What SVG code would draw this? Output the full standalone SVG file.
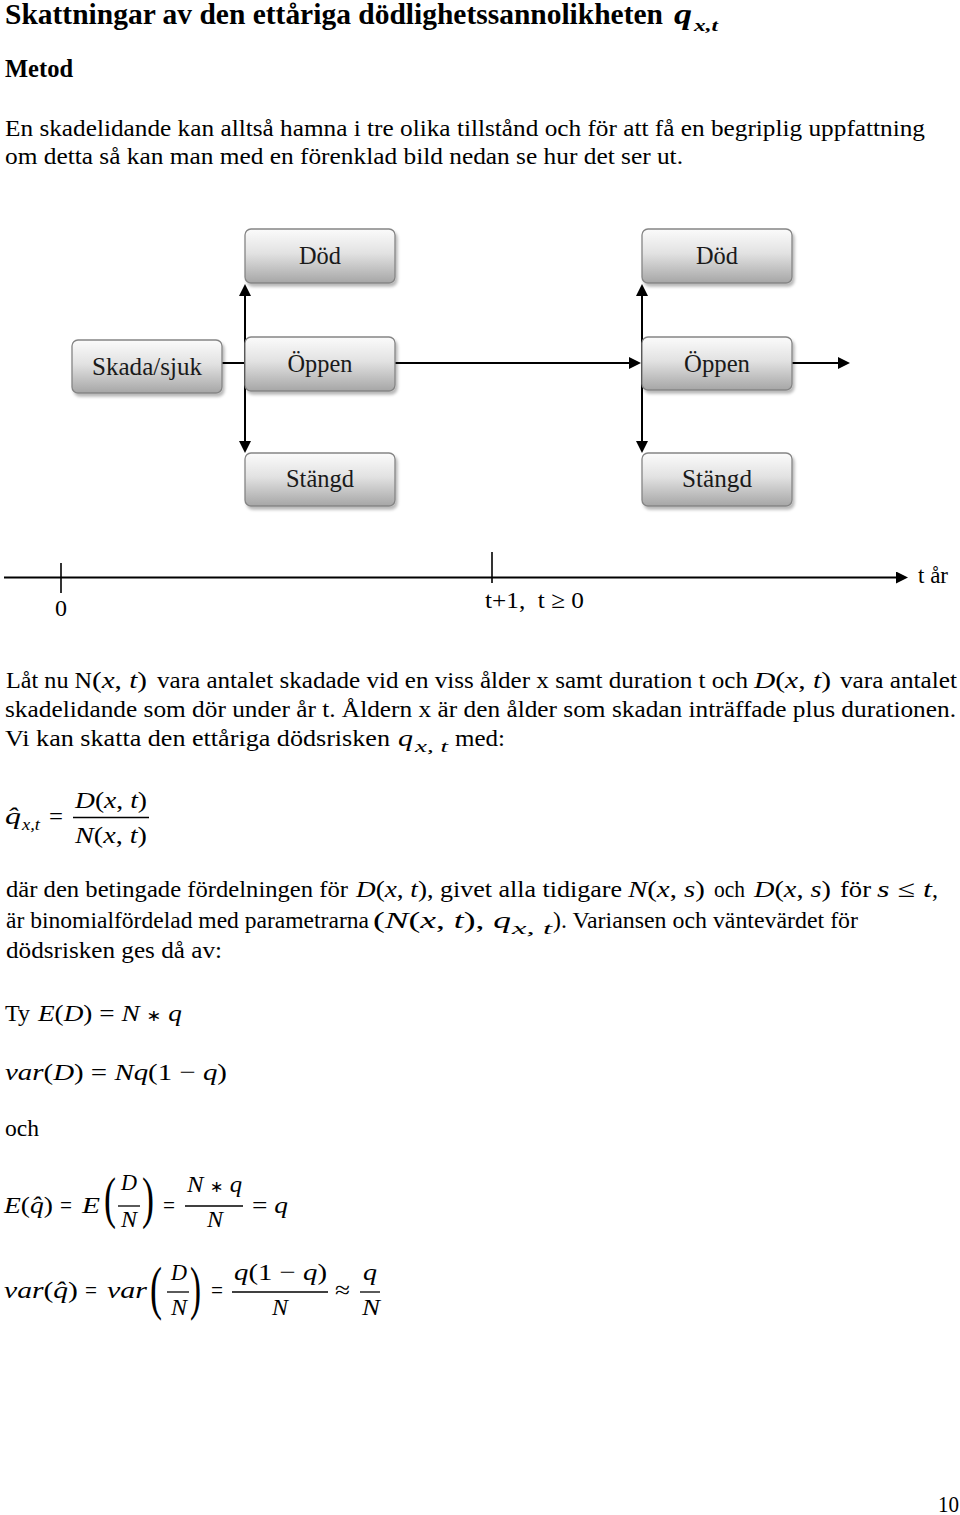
<svg xmlns="http://www.w3.org/2000/svg" width="960" height="1515" viewBox="0 0 960 1515">
<defs>
<linearGradient id="boxg" x1="0" y1="0" x2="0" y2="1">
<stop offset="0" stop-color="#fbfbfb"/>
<stop offset="0.45" stop-color="#e2e2e2"/>
<stop offset="1" stop-color="#a6a6a6"/>
</linearGradient>
<filter id="sh" x="-10%" y="-15%" width="130%" height="150%">
<feDropShadow dx="2" dy="3" stdDeviation="1.5" flood-color="#000" flood-opacity="0.28"/>
</filter>
<marker id="ah" viewBox="0 0 12 12" refX="2" refY="6" markerWidth="12" markerHeight="12" markerUnits="userSpaceOnUse" orient="auto-start-reverse"><path d="M0,0 L12,6 L0,12 z" fill="#000"/></marker>
<style>
.box{fill:url(#boxg);stroke:#858585;stroke-width:1.3;filter:url(#sh)}
.bl{font-family:"Liberation Serif","Times New Roman",serif;font-size:26px;fill:#1a1a1a;text-anchor:middle}
.tx{font-family:"Liberation Serif","Times New Roman",serif;font-size:24px;fill:#000}
.h1{font-family:"Liberation Serif","Times New Roman",serif;font-size:30px;font-weight:bold;fill:#000}
.h2{font-family:"Liberation Serif","Times New Roman",serif;font-size:26px;font-weight:bold;fill:#000}
.m{font-family:"Liberation Serif","DejaVu Serif",serif;font-size:24px;fill:#000}
.big{font-family:"Liberation Serif","DejaVu Serif",serif;fill:#000}
.i{font-style:italic}
.ast{font-family:"DejaVu Sans",sans-serif;font-size:16px;font-style:normal}
.sub{font-family:"Liberation Serif","Times New Roman",serif;font-size:17px;font-style:italic;fill:#000}
.conn{stroke:#000;stroke-width:2;fill:none}
.tick{stroke:#000;stroke-width:1.6;fill:none}
.bar{stroke:#000;stroke-width:1.3}
</style>
</defs>
<rect width="960" height="1515" fill="#fff"/>

<g id="heading">
<text class="h1" x="5" y="24" textLength="658" lengthAdjust="spacingAndGlyphs">Skattningar av den ettåriga dödlighetssannolikheten</text>
<text class="h1 i" x="674" y="24" textLength="18" lengthAdjust="spacingAndGlyphs">q</text>
<text class="sub" x="694" y="31" font-weight="bold" textLength="24" lengthAdjust="spacingAndGlyphs">x,t</text>
<text class="h2" x="5" y="77" textLength="68" lengthAdjust="spacingAndGlyphs">Metod</text>
<text class="tx" x="5" y="136" textLength="920" lengthAdjust="spacingAndGlyphs">En skadelidande kan alltså hamna i tre olika tillstånd och för att få en begriplig uppfattning</text>
<text class="tx" x="5" y="164" textLength="678" lengthAdjust="spacingAndGlyphs">om detta så kan man med en förenklad bild nedan se hur det ser ut.</text>
</g>

<g id="connectors">
<line class="conn" x1="222" y1="363" x2="245" y2="363"/>
<line class="conn" x1="245" y1="294" x2="245" y2="443" marker-start="url(#ah)" marker-end="url(#ah)"/>
<line class="conn" x1="395" y1="363" x2="631" y2="363" marker-end="url(#ah)"/>
<line class="conn" x1="642" y1="294" x2="642" y2="443" marker-start="url(#ah)" marker-end="url(#ah)"/>
<line class="conn" x1="792" y1="363" x2="840" y2="363" marker-end="url(#ah)"/>
</g>

<g id="node-dod-1"><rect class="box" x="245" y="229" width="150" height="54" rx="6"/><text class="bl" x="320" y="264" textLength="42" lengthAdjust="spacingAndGlyphs">Död</text></g>
<g id="node-dod-2"><rect class="box" x="642" y="229" width="150" height="54" rx="6"/><text class="bl" x="717" y="264" textLength="42" lengthAdjust="spacingAndGlyphs">Död</text></g>
<g id="node-skada"><rect class="box" x="72" y="340" width="150" height="53" rx="6"/><text class="bl" x="147" y="375" textLength="110" lengthAdjust="spacingAndGlyphs">Skada/sjuk</text></g>
<g id="node-oppen-1"><rect class="box" x="245" y="337" width="150" height="54" rx="6"/><text class="bl" x="320" y="372" textLength="65" lengthAdjust="spacingAndGlyphs">Öppen</text></g>
<g id="node-oppen-2"><rect class="box" x="642" y="337" width="150" height="53" rx="6"/><text class="bl" x="717" y="372" textLength="66" lengthAdjust="spacingAndGlyphs">Öppen</text></g>
<g id="node-stangd-1"><rect class="box" x="245" y="453" width="150" height="53" rx="6"/><text class="bl" x="320" y="487" textLength="68" lengthAdjust="spacingAndGlyphs">Stängd</text></g>
<g id="node-stangd-2"><rect class="box" x="642" y="453" width="150" height="53" rx="6"/><text class="bl" x="717" y="487" textLength="70" lengthAdjust="spacingAndGlyphs">Stängd</text></g>

<g id="timeline">
<line x1="4" y1="577.5" x2="898" y2="577.5" stroke="#000" stroke-width="2.2" marker-end="url(#ah)"/>
<line class="tick" x1="61" y1="563" x2="61" y2="593"/>
<line class="tick" x1="492" y1="552" x2="492" y2="583"/>
<text class="tx" x="61" y="616" text-anchor="middle">0</text>
<text class="tx" x="485" y="608" textLength="99" lengthAdjust="spacingAndGlyphs">t+1,&#160; t ≥ 0</text>
<text class="tx" x="918" y="583" textLength="30" lengthAdjust="spacingAndGlyphs">t år</text>
</g>

<g id="paragraph-2">
<text class="tx" x="6" y="688" textLength="86" lengthAdjust="spacingAndGlyphs">Låt nu N</text>
<text class="m" x="92" y="688" textLength="55" lengthAdjust="spacingAndGlyphs">(<tspan class="i">x</tspan>, <tspan class="i">t</tspan>)</text>
<text class="tx" x="157" y="688" textLength="591" lengthAdjust="spacingAndGlyphs">vara antalet skadade vid en viss ålder x samt duration t och</text>
<text class="m" x="754" y="688" textLength="77" lengthAdjust="spacingAndGlyphs"><tspan class="i">D</tspan>(<tspan class="i">x</tspan>, <tspan class="i">t</tspan>)</text>
<text class="tx" x="840" y="688" textLength="117" lengthAdjust="spacingAndGlyphs">vara antalet</text>
<text class="tx" x="5" y="717" textLength="951" lengthAdjust="spacingAndGlyphs">skadelidande som dör under år t. Åldern x är den ålder som skadan inträffade plus durationen.</text>
<text class="tx" x="5" y="746" textLength="385" lengthAdjust="spacingAndGlyphs">Vi kan skatta den ettåriga dödsrisken</text>
<text class="m i" x="398" y="746" textLength="15" lengthAdjust="spacingAndGlyphs">q</text>
<text class="sub" x="415" y="752" textLength="33" lengthAdjust="spacingAndGlyphs">x, t</text>
<text class="tx" x="455" y="746" textLength="50" lengthAdjust="spacingAndGlyphs">med:</text>
</g>

<g id="formula-q">
<text class="m i" x="5" y="824" textLength="16" lengthAdjust="spacingAndGlyphs">q&#x302;</text>
<text class="sub" x="22" y="830" textLength="18" lengthAdjust="spacingAndGlyphs">x,t</text>
<text class="m" x="49" y="824" textLength="14" lengthAdjust="spacingAndGlyphs">=</text>
<text class="m" x="75" y="808" textLength="72" lengthAdjust="spacingAndGlyphs"><tspan class="i">D</tspan>(<tspan class="i">x</tspan>, <tspan class="i">t</tspan>)</text>
<line class="bar" x1="73" y1="817.5" x2="149" y2="817.5"/>
<text class="m" x="75" y="843" textLength="72" lengthAdjust="spacingAndGlyphs"><tspan class="i">N</tspan>(<tspan class="i">x</tspan>, <tspan class="i">t</tspan>)</text>
</g>

<g id="paragraph-3">
<text class="tx" x="6" y="897" textLength="342" lengthAdjust="spacingAndGlyphs">där den betingade fördelningen för</text>
<text class="m" x="356" y="897" textLength="71" lengthAdjust="spacingAndGlyphs"><tspan class="i">D</tspan>(<tspan class="i">x</tspan>, <tspan class="i">t</tspan>)</text>
<text class="tx" x="427" y="897" textLength="195" lengthAdjust="spacingAndGlyphs">, givet alla tidigare</text>
<text class="m" x="628" y="897" textLength="77" lengthAdjust="spacingAndGlyphs"><tspan class="i">N</tspan>(<tspan class="i">x</tspan>, <tspan class="i">s</tspan>)</text>
<text class="tx" x="714" y="897" textLength="31" lengthAdjust="spacingAndGlyphs">och</text>
<text class="m" x="754" y="897" textLength="77" lengthAdjust="spacingAndGlyphs"><tspan class="i">D</tspan>(<tspan class="i">x</tspan>, <tspan class="i">s</tspan>)</text>
<text class="tx" x="840" y="897" textLength="31" lengthAdjust="spacingAndGlyphs">för</text>
<text class="m" x="877" y="897" textLength="55" lengthAdjust="spacingAndGlyphs"><tspan class="i">s</tspan> ≤ <tspan class="i">t</tspan></text>
<text class="tx" x="932" y="897">,</text>
<text class="tx" x="6" y="928" textLength="363" lengthAdjust="spacingAndGlyphs">är binomialfördelad med parametrarna</text>
<text class="m" x="373" y="928" textLength="138" lengthAdjust="spacingAndGlyphs">(<tspan class="i">N</tspan>(<tspan class="i">x</tspan>, <tspan class="i">t</tspan>), <tspan class="i">q</tspan></text>
<text class="sub" x="512" y="934" textLength="40" lengthAdjust="spacingAndGlyphs">x, t</text>
<text class="tx" x="553" y="928" textLength="305" lengthAdjust="spacingAndGlyphs">). Variansen och väntevärdet för</text>
<text class="tx" x="6" y="958" textLength="216" lengthAdjust="spacingAndGlyphs">dödsrisken ges då av:</text>
</g>

<g id="formulas">
<text class="tx" x="5" y="1021" textLength="25" lengthAdjust="spacingAndGlyphs">Ty</text>
<text class="m" x="38" y="1021" textLength="144" lengthAdjust="spacingAndGlyphs"><tspan class="i">E</tspan>(<tspan class="i">D</tspan>) = <tspan class="i">N</tspan> <tspan class="ast">∗</tspan> <tspan class="i">q</tspan></text>
<text class="m" x="5" y="1080" textLength="222" lengthAdjust="spacingAndGlyphs"><tspan class="i">var</tspan>(<tspan class="i">D</tspan>) = <tspan class="i">Nq</tspan>(1 − <tspan class="i">q</tspan>)</text>
<text class="tx" x="5" y="1136" textLength="34" lengthAdjust="spacingAndGlyphs">och</text>

<text class="m" x="4" y="1213" textLength="49" lengthAdjust="spacingAndGlyphs"><tspan class="i">E</tspan>(<tspan class="i">q&#x302;</tspan>)</text>
<text class="m" x="60" y="1213" textLength="12" lengthAdjust="spacingAndGlyphs">=</text>
<text class="m i" x="82" y="1213" textLength="18" lengthAdjust="spacingAndGlyphs">E</text>
<text class="big" x="104" y="1217" style="font-size:58px" textLength="12" lengthAdjust="spacingAndGlyphs">(</text>
<text class="m i" x="121" y="1190" textLength="16" lengthAdjust="spacingAndGlyphs">D</text>
<line class="bar" x1="118" y1="1206" x2="140" y2="1206"/>
<text class="m i" x="121" y="1227" textLength="16" lengthAdjust="spacingAndGlyphs">N</text>
<text class="big" x="142" y="1217" style="font-size:58px" textLength="12" lengthAdjust="spacingAndGlyphs">)</text>
<text class="m" x="163" y="1213" textLength="12" lengthAdjust="spacingAndGlyphs">=</text>
<text class="m" x="187" y="1192" textLength="55" lengthAdjust="spacingAndGlyphs"><tspan class="i">N</tspan> <tspan class="ast">∗</tspan> <tspan class="i">q</tspan></text>
<line class="bar" x1="185" y1="1206" x2="243" y2="1206"/>
<text class="m i" x="207" y="1227" textLength="16" lengthAdjust="spacingAndGlyphs">N</text>
<text class="m" x="252" y="1213" textLength="36" lengthAdjust="spacingAndGlyphs">= <tspan class="i">q</tspan></text>

<text class="m" x="4" y="1298" textLength="74" lengthAdjust="spacingAndGlyphs"><tspan class="i">var</tspan>(<tspan class="i">q&#x302;</tspan>)</text>
<text class="m" x="85" y="1298" textLength="12" lengthAdjust="spacingAndGlyphs">=</text>
<text class="m i" x="107" y="1298" textLength="40" lengthAdjust="spacingAndGlyphs">var</text>
<text class="big" x="150" y="1308" style="font-size:60px" textLength="12" lengthAdjust="spacingAndGlyphs">(</text>
<text class="m i" x="171" y="1280" textLength="16" lengthAdjust="spacingAndGlyphs">D</text>
<line class="bar" x1="167" y1="1292" x2="189" y2="1292"/>
<text class="m i" x="171" y="1315" textLength="16" lengthAdjust="spacingAndGlyphs">N</text>
<text class="big" x="190" y="1308" style="font-size:60px" textLength="11" lengthAdjust="spacingAndGlyphs">)</text>
<text class="m" x="211" y="1298" textLength="12" lengthAdjust="spacingAndGlyphs">=</text>
<text class="m" x="234" y="1280" textLength="93" lengthAdjust="spacingAndGlyphs"><tspan class="i">q</tspan>(1 − <tspan class="i">q</tspan>)</text>
<line class="bar" x1="232" y1="1292" x2="328" y2="1292"/>
<text class="m i" x="272" y="1315" textLength="16" lengthAdjust="spacingAndGlyphs">N</text>
<text class="m" x="335" y="1298" textLength="15" lengthAdjust="spacingAndGlyphs">≈</text>
<text class="m i" x="363" y="1280" textLength="14" lengthAdjust="spacingAndGlyphs">q</text>
<line class="bar" x1="360" y1="1292" x2="380" y2="1292"/>
<text class="m i" x="362" y="1315" textLength="18" lengthAdjust="spacingAndGlyphs">N</text>
</g>

<text class="tx" x="938" y="1512" textLength="21" lengthAdjust="spacingAndGlyphs">10</text>
</svg>
